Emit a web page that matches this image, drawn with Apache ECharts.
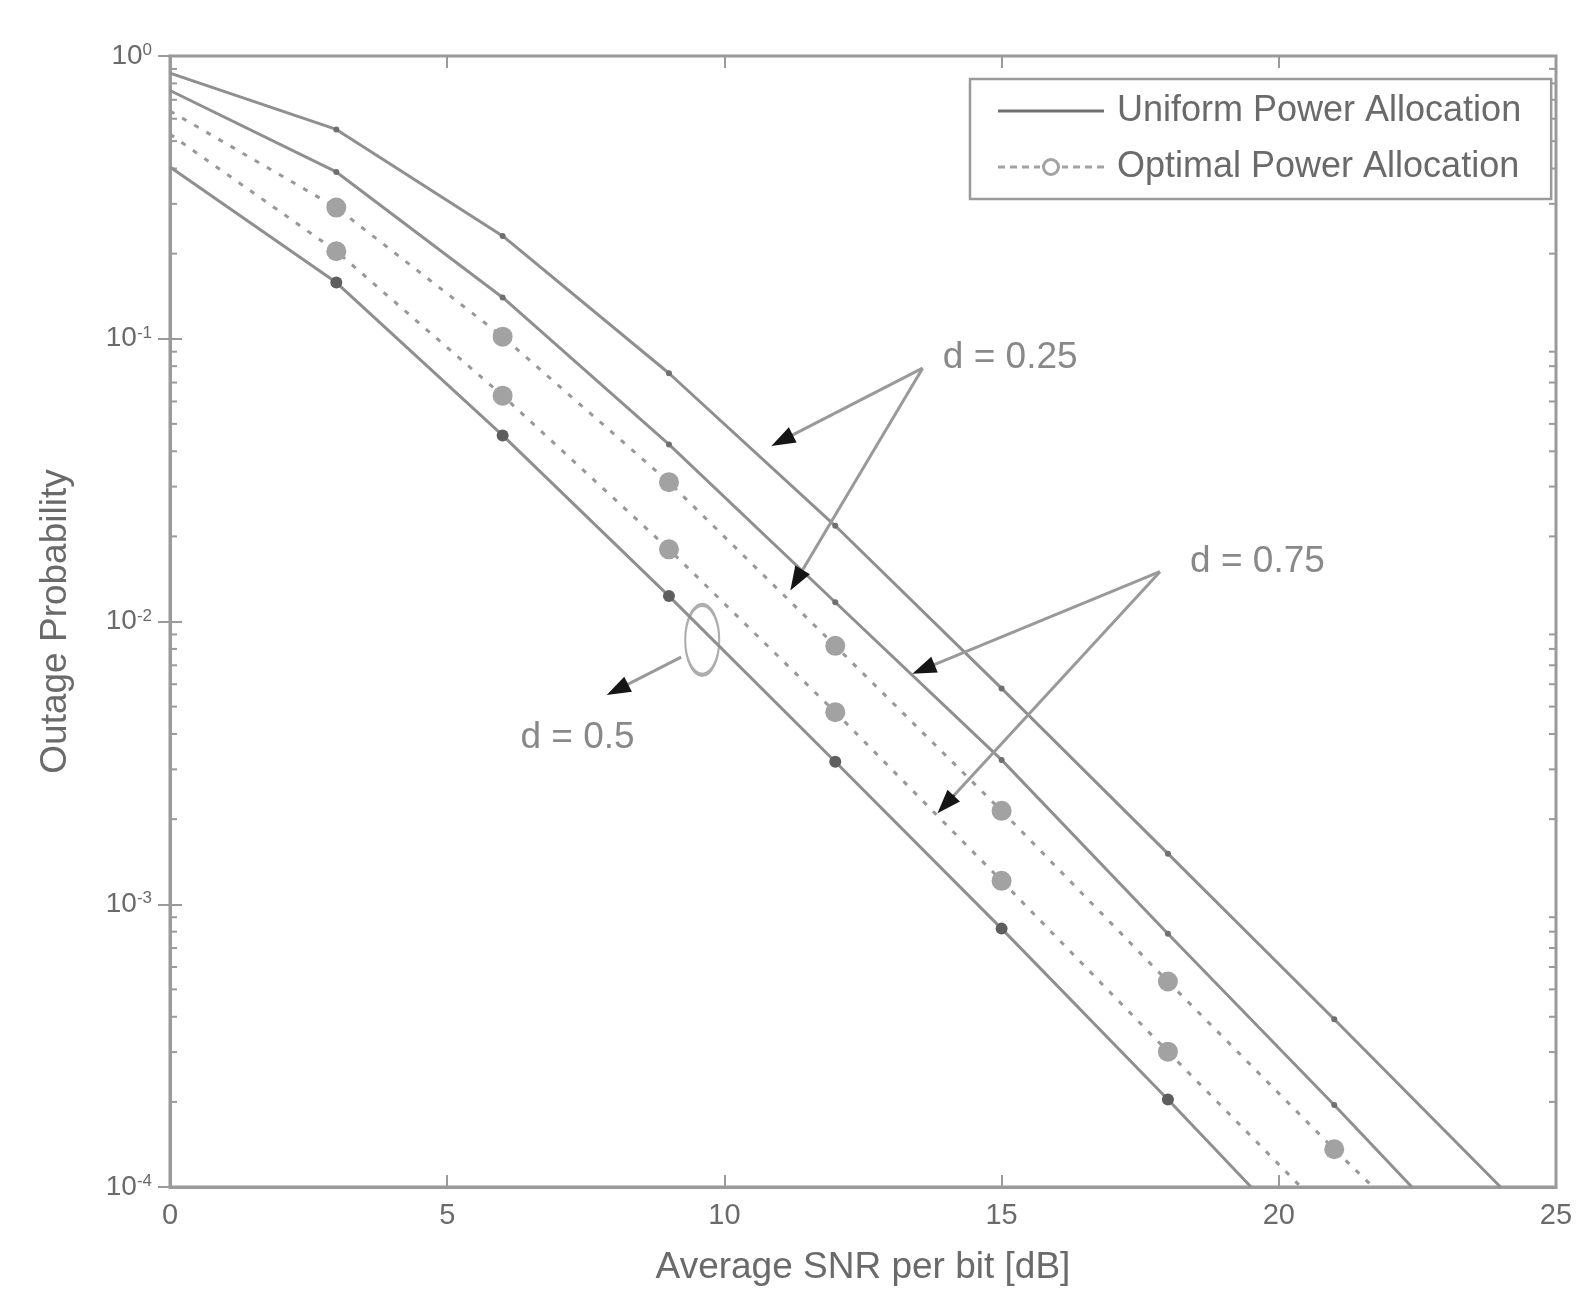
<!DOCTYPE html>
<html>
<head>
<meta charset="utf-8">
<script src="https://cdn.jsdelivr.net/npm/echarts@6.0.0/dist/echarts.min.js"></script>
<style>
  html, body { margin: 0; padding: 0; background: #fff; }
  #chart { width: 1588px; height: 1312px; }
</style>
</head>
<body>
<div id="chart"></div>
<script>
// SNR points (dB) where the curves were read
const snr = [0, 3, 6, 9, 12, 15, 18, 21];

// outage probability
const uniformD025 = [0.87, 0.55, 0.231, 0.0755, 0.0218, 0.0058, 0.00151, 0.000392];
const uniformD075 = [0.755, 0.389, 0.140, 0.0423, 0.0117, 0.00324, 0.000786, 0.000195];
const optimalD025 = [0.639, 0.291, 0.1017, 0.0311, 0.0082, 0.00214, 0.000533, 0.000136];
const optimalD075 = [0.529, 0.204, 0.0629, 0.018, 0.00478, 0.00121, 0.000301];
const bothD05 = [0.405, 0.158, 0.0455, 0.0123, 0.00319, 0.00082, 0.000204];

// SNR where each curve leaves the plot at 1e-4
const floorSnr = { u025: 24.0, u075: 22.4, o025: 21.7, o075: 20.4, d05: 19.5 };

const minorTicks = [];
[-4, -3, -2, -1].forEach(function (e) {
  [2, 3, 4, 5, 6, 7, 8, 9].forEach(function (k) { minorTicks.push(k * Math.pow(10, e)); });
});

// annotations (data coords)
const noteText = ['d = 0.25', 'd = 0.75', 'd = 0.5'];
const notePos = [[13.94, 0.0855], [18.4, 0.0163], [6.32, 0.00389]];
const arrows = [
  [[13.575, 0.0787], [11.04, 0.0437]],
  [[13.575, 0.0787], [11.30, 0.0140]],
  [[17.857, 0.0150], [13.59, 0.00678]],
  [[17.857, 0.0150], [13.99, 0.002254]],
  [[9.22, 0.00748], [8.07, 0.00574]]
];
const ellipsePos = [9.6, 0.00861];

const FONT = 'Liberation Sans';
const LINE = '#8f8f8f';
const TEXT = '#6a6a6a';

function pairs(vals, cross) {
  const d = vals.map(function (v, i) { return [snr[i], v]; });
  d.push([cross, 1e-4]);
  return d;
}

// markers only at the read points 3..21 dB
function markSize(size) {
  return function (val) {
    return (val[0] > 0 && val[0] <= 21 && val[0] % 3 === 0) ? size : 0;
  };
}

// short segment right before the tip so the arrow head can be drawn black
function nearTip(a) {
  const f = 0.04;
  const x = a[1][0] + (a[0][0] - a[1][0]) * f;
  const ly = Math.log10(a[1][1]) + (Math.log10(a[0][1]) - Math.log10(a[1][1])) * f;
  return [{ coord: [x, Math.pow(10, ly)] }, { coord: a[1] }];
}

const chart = echarts.init(document.getElementById('chart'));

const uniformIcon = 'path://M0,0L106,0L106,3L0,3Z';
const optimalIcon = 'path://M0,9.5h7v3h-7zM12,9.5h7v3h-7zM24,9.5h7v3h-7zM36,9.5h6v3h-6z' +
  'M64,9.5h6v3h-6zM75,9.5h7v3h-7zM87,9.5h7v3h-7zM99,9.5h7v3h-7z' +
  'M44,11A9,9 0 1 1 62,11A9,9 0 1 1 44,11ZM47,11A6,6 0 1 0 59,11A6,6 0 1 0 47,11Z';

const option = {
  animation: false,
  backgroundColor: '#fff',
  textStyle: { fontFamily: FONT },
  grid: {
    left: 170, right: 32, top: 56, bottom: 125,
    show: true, borderColor: '#9a9a9a', borderWidth: 3,
    outerBoundsMode: 'none'
  },
  legend: {
    orient: 'vertical',
    left: 970, top: 79,
    padding: [14, 30, 14, 28],
    itemWidth: 106, itemHeight: 22, itemGap: 20,
    symbolKeepAspect: true,
    selectedMode: false,
    borderColor: '#9a9a9a', borderWidth: 2.5,
    backgroundColor: '#fff',
    textStyle: { fontSize: 36, color: TEXT, fontFamily: FONT, lineHeight: 36, padding: [0, 0, 0, 8] },
    data: [
      { name: 'Uniform Power Allocation', icon: uniformIcon },
      { name: 'Optimal Power Allocation', icon: optimalIcon }
    ]
  },
  xAxis: [{
    type: 'value', min: 0, max: 25, interval: 5,
    name: 'Average SNR per bit [dB]', nameLocation: 'middle', nameGap: 62,
    nameTextStyle: { fontSize: 37, color: TEXT, fontFamily: FONT },
    axisLine: { lineStyle: { color: '#9a9a9a', width: 3 } },
    axisTick: { inside: true, length: 12, lineStyle: { color: '#9a9a9a', width: 2 } },
    axisLabel: { fontSize: 29, color: TEXT, margin: 14, fontFamily: FONT },
    splitLine: { show: false }
  }, {
    type: 'value', min: 0, max: 25, interval: 5, position: 'top',
    axisLine: { show: false },
    axisTick: { inside: true, length: 12, lineStyle: { color: '#9a9a9a', width: 2 } },
    axisLabel: { show: false },
    splitLine: { show: false }
  }],
  yAxis: [{
    type: 'log', logBase: 10, min: 1e-4, max: 1,
    name: 'Outage Probability', nameLocation: 'middle', nameGap: 96,
    nameTextStyle: { fontSize: 37, color: TEXT, fontFamily: FONT },
    axisLine: { lineStyle: { color: '#9a9a9a', width: 3 } },
    axisTick: { inside: true, length: 12, lineStyle: { color: '#9a9a9a', width: 2 } },
    axisLabel: {
      margin: 18,
      formatter: function (v) {
        return '{b|10}{s|' + Math.round(Math.log10(v)) + '}';
      },
      rich: {
        b: { fontSize: 28, color: TEXT, fontFamily: FONT },
        s: { fontSize: 17, color: TEXT, fontFamily: FONT, verticalAlign: 'top' }
      }
    },
    splitLine: { show: false }
  }, {
    type: 'log', logBase: 10, min: 1e-4, max: 1, position: 'right',
    axisLine: { show: false },
    axisTick: { inside: true, length: 12, lineStyle: { color: '#9a9a9a', width: 2 } },
    axisLabel: { show: false },
    splitLine: { show: false }
  }],
  series: [
    {
      name: 'Uniform Power Allocation', type: 'line', color: LINE,
      data: pairs(uniformD025, floorSnr.u025),
      symbol: 'circle', symbolSize: markSize(6), showAllSymbol: true,
      itemStyle: { color: '#6f6f6f' },
      lineStyle: { color: LINE, width: 3 }
    },
    {
      name: 'Uniform Power Allocation', type: 'line', color: LINE,
      data: pairs(uniformD075, floorSnr.u075),
      symbol: 'circle', symbolSize: markSize(6), showAllSymbol: true,
      itemStyle: { color: '#6f6f6f' },
      lineStyle: { color: LINE, width: 3 }
    },
    {
      name: 'Optimal Power Allocation', type: 'line', color: '#8a8a8a',
      data: pairs(optimalD025, floorSnr.o025),
      symbol: 'circle', symbolSize: markSize(20), showAllSymbol: true,
      itemStyle: { color: '#a2a2a2' },
      lineStyle: { color: '#989898', width: 3, type: [5, 9] }
    },
    {
      name: 'Optimal Power Allocation', type: 'line', color: '#8a8a8a',
      data: pairs(optimalD075, floorSnr.o075),
      symbol: 'circle', symbolSize: markSize(20), showAllSymbol: true,
      itemStyle: { color: '#a2a2a2' },
      lineStyle: { color: '#989898', width: 3, type: [5, 9] }
    },
    {
      name: 'Uniform Power Allocation', type: 'line', color: LINE,
      data: pairs(bothD05, floorSnr.d05),
      symbol: 'circle', symbolSize: markSize(12), showAllSymbol: true,
      itemStyle: { color: '#5e5e5e' },
      lineStyle: { color: LINE, width: 3 }
    },
    {
      name: 'minor', type: 'custom', silent: true, clip: false,
      data: minorTicks.map(function (v) { return [0, v]; }),
      renderItem: function (params, api) {
        const v = api.value(1);
        const l = api.coord([0, v]);
        const r = api.coord([25, v]);
        const st = { stroke: '#9a9a9a', lineWidth: 2 };
        return {
          type: 'group',
          children: [
            { type: 'line', shape: { x1: l[0], y1: l[1], x2: l[0] + 7, y2: l[1] }, style: st },
            { type: 'line', shape: { x1: r[0], y1: r[1], x2: r[0] - 7, y2: r[1] }, style: st }
          ]
        };
      }
    },
    {
      name: 'notes', type: 'scatter', silent: true,
      data: notePos.map(function (p, i) { return { name: noteText[i], value: p }; }),
      symbolSize: 0,
      label: {
        show: true, position: 'right', distance: 0,
        formatter: '{b}', fontSize: 37, color: TEXT, fontFamily: FONT
      },
      markLine: {
        silent: true, symbol: ['none', 'none'],
        label: { show: false },
        lineStyle: { color: '#999', width: 3, type: 'solid' },
        data: arrows.map(function (a) { return [{ coord: a[0] }, { coord: a[1] }]; })
      }
    },
    {
      name: 'ellipse', type: 'scatter', silent: true,
      data: [ellipsePos],
      symbol: 'circle', symbolSize: [34, 70],
      itemStyle: { color: 'rgba(0,0,0,0)', borderColor: '#999', borderWidth: 3 },
      markLine: {
        silent: true, symbol: ['none', 'triangle'], symbolSize: [17, 24],
        label: { show: false },
        lineStyle: { color: '#151515', width: 2, type: 'solid' },
        data: arrows.map(nearTip)
      }
    }
  ]
};

chart.setOption(option);
</script>
</body>
</html>
